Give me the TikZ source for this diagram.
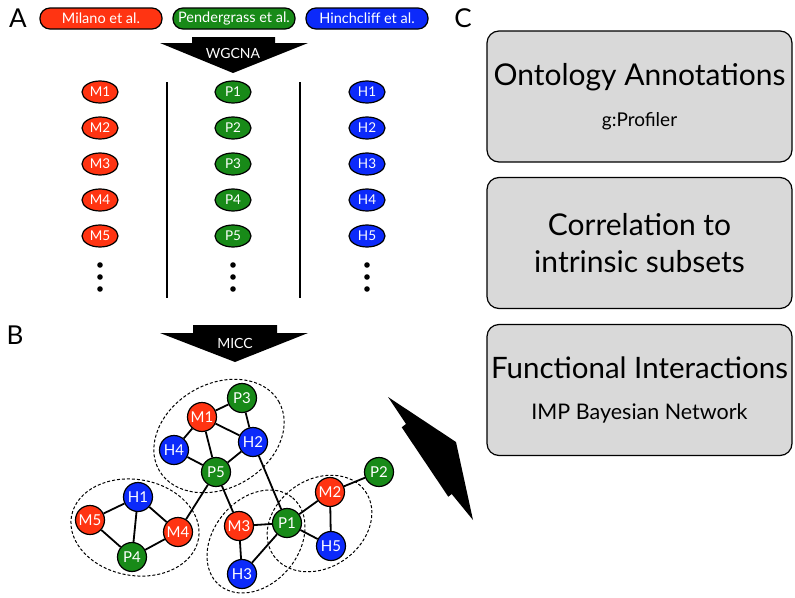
\documentclass[tikz,border=0pt]{standalone}
\usepackage{fontspec}
\setmainfont{Lato}
\usetikzlibrary{shapes.geometric,positioning}

\definecolor{milred}{RGB}{255,52,18}
\definecolor{pengreen}{RGB}{24,138,24}
\definecolor{hinblue}{RGB}{12,42,250}
\definecolor{boxgray}{RGB}{217,217,217}

\tikzset{
  pill/.style={draw=black, line width=1.2pt, rounded corners=10pt, minimum width=122pt, minimum height=21pt, inner sep=0pt, text=white, font=\fontsize{14.5}{14.5}\selectfont},
  modoval/.style={ellipse, draw=black, line width=1.2pt, minimum width=36pt, minimum height=22pt, inner sep=0pt, text=white, font=\fontsize{13.5}{13.5}\selectfont},
  gene/.style={circle, draw=black, line width=1.2pt, minimum size=29pt, inner sep=0pt, text=white, font=\fontsize{15}{15}\selectfont},
  task/.style={draw=black, line width=1.2pt, fill=boxgray, rounded corners=12pt, minimum width=305pt, minimum height=131pt, inner sep=0pt, align=center},
  cluster/.style={draw=black, line width=1pt, dash pattern=on 3pt off 2pt},
  link/.style={line width=1.8pt},
  panel/.style={font=\fontsize{26}{26}\selectfont, inner sep=0pt}
}

\begin{document}
\begin{tikzpicture}[x=1pt,y=-1pt]
\useasboundingbox (0,0) rectangle (795,597);

% Panel letters
\node[panel] (lblA) at (18,18) {A};
\node[panel] (lblB) at (15,335) {B};
\node[panel] (lblC) at (463,18) {C};

% Data sets
\node[pill, fill=milred] (milano) at (101,18.5) {Milano et al.};
\node[pill, fill=pengreen] (pender) at (234,18.5) {Pendergrass et al.};
\node[pill, fill=hinblue] (hinch) at (367,18.5) {Hinchcliff et al.};

% WGCNA block arrow
\fill (192,37) -- (275,37) -- (275,43) -- (308,43) -- (233,73) -- (160,43) -- (192,43) -- cycle;
\node[text=white, font=\fontsize{14}{14}\selectfont] (wgcna) at (233,53) {WGCNA};

% Modules of each data set
\foreach \i/\y in {1/92,2/128,3/164,4/200,5/236} {
  \node[modoval, fill=milred] (colM\i) at (100,\y) {M\i};
  \node[modoval, fill=pengreen] (colP\i) at (233,\y) {P\i};
  \node[modoval, fill=hinblue] (colH\i) at (367,\y) {H\i};
}
\foreach \x in {100,233,367}
  \foreach \y in {265,277,289}
    \fill (\x,\y) circle (2.8);

% Column separators
\draw[line width=1.6pt] (167,82) -- (167,298);
\draw[line width=1.6pt] (300,82) -- (300,298);

% MICC block arrow
\fill (193,325) -- (277,325) -- (277,333) -- (308,333) -- (235,362) -- (160,333) -- (193,333) -- cycle;
\node[text=white, font=\fontsize{14}{14}\selectfont] (micc) at (235,343) {MICC};

% Module network
\foreach \n/\x/\y/\c in {
  P3/242/398/pengreen, M1/202/417/milred, H4/174/450/hinblue, H2/253/442/hinblue,
  P5/216/472/pengreen, H1/138/497/hinblue, M5/90/520/milred, M4/178/532/milred,
  P4/132/557/pengreen, M3/239/526/milred, P1/287/523/pengreen, H3/242/574/hinblue,
  M2/330/492/milred, P2/379/472/pengreen, H5/331/546/hinblue}
  \node[gene, fill=\c] (\n) at (\x,\y) {\n};

\foreach \a/\b in {
  M1/P3, M1/H4, M1/H2, M1/P5, P3/H2, H4/P5, H2/P5, H2/P1,
  P5/M4, P5/M3, H1/M5, H1/P4, H1/M4, M5/P4, P4/M4,
  M3/P1, M3/H3, H3/P1, P1/M2, P1/H5, M2/P2, M2/H5}
  \draw[link] (\a) -- (\b);

% Clusters
\draw[cluster, rotate around={30:(219,436)}] (219,436) ellipse (69 and 52);
\draw[cluster, rotate around={-10:(135,527.5)}] (135,527.5) ellipse (64.5 and 48);
\draw[cluster, rotate around={50:(256,541.5)}] (256,541.5) ellipse (57 and 42.5);
\draw[cluster, rotate around={35:(319.5,523.5)}] (319.5,523.5) ellipse (56 and 44);

% Arrow to the analyses
\fill (388,397) -- (456,442) -- (473,520) -- (451.7,494) -- (448.3,496.7) -- (401.7,427.3) -- (406,424) -- cycle;

% Analyses
\node[task, font=\fontsize{30}{41}\selectfont] (onto) at (639.5,96.5)
  {Ontology Annotations\\{\fontsize{19}{19}\selectfont g:Profiler}};
\node[task, font=\fontsize{30}{37}\selectfont] (corr) at (639.5,243)
  {Correlation to\\intrinsic subsets};
\node[task, font=\fontsize{29.5}{41}\selectfont] (func) at (639.5,390)
  {Functional Interactions\\{\fontsize{21.5}{21.5}\selectfont IMP Bayesian Network}};

\end{tikzpicture}
\end{document}
